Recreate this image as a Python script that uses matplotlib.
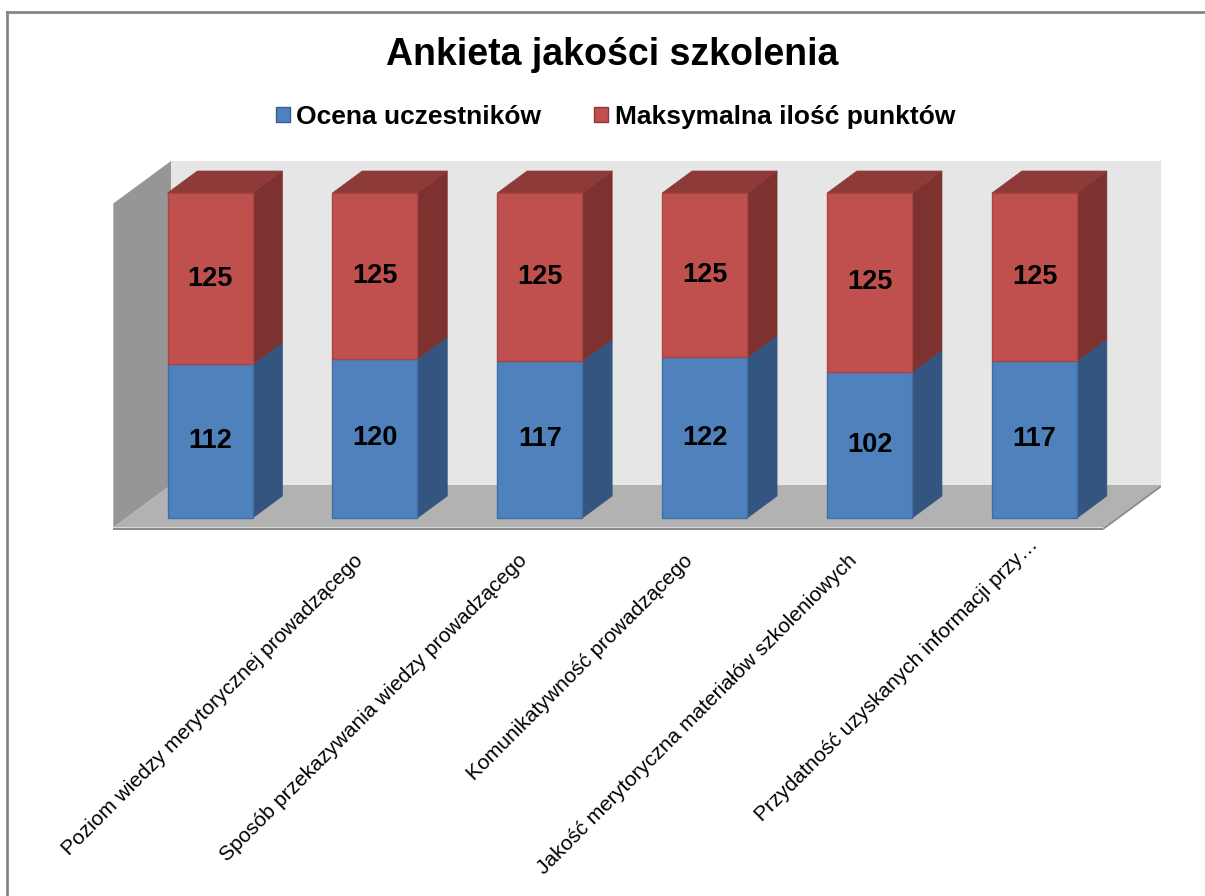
import matplotlib
matplotlib.use("Agg")
import matplotlib.pyplot as plt
from matplotlib.patches import Polygon, Patch
from matplotlib.lines import Line2D
import numpy as np

plt.rcParams['font.family'] = ['Liberation Sans', 'DejaVu Sans']

# ---------------- data ----------------
categories = [
    "",
    "Poziom wiedzy merytorycznej prowadzącego",
    "Sposób przekazywania wiedzy prowadzącego",
    "Komunikatywność prowadzącego",
    "Jakość merytoryczna materiałów szkoleniowych",
    "Przydatność uzyskanych informacji przy…",
]
ocena = [112, 120, 117, 122, 102, 117]
maks = [125, 125, 125, 125, 125, 125]
series_names = ["Ocena uczestników", "Maksymalna ilość punktów"]
title = "Ankieta jakości szkolenia"

# ---------------- style ----------------
blue_front, blue_side = "#4f81bd", "#34557f"
red_front, red_side, red_top = "#c0504d", "#7d3230", "#8e3a38"
blue_edge, red_edge = "#3f6ea6", "#a84542"

W, H = 1205, 896
fig = plt.figure(figsize=(W / 100, H / 100), dpi=100)
ax = fig.add_axes([0, 0, 1, 1])
ax.set_axis_off()

# pixel mapping: x=0 -> 210px, x=5 -> 1034.5px ; y=0 -> 518px, y=1 -> 193px
px_x = (1034.5 - 210) / 5.0
px_y = 518 - 193
ax.set_xlim(-210 / px_x, (W - 210) / px_x)
ax.set_ylim((518 - H) / px_y, 518 / px_y)

DX = 1.357 / px_x   # depth shift (per depth pixel) in data x
DY = 1.0 / px_y     # depth shift in data y


def P(x, y, d):
    return (x + d * DX, y + d * DY)


XL, XR = -0.508, 5.495
D_FRONT, D_BACK_BAR, D_WALL = -9.5, 22, 33
TOP = 0.997

# walls and floor
back = Polygon([P(XL, 0, D_WALL), P(XR, 0, D_WALL), P(XR, TOP, D_WALL), P(XL, TOP, D_WALL)],
               closed=True, facecolor="#e6e6e6", edgecolor="none", zorder=1)
left = Polygon([P(XL, 0, D_FRONT), P(XL, 0, D_WALL), P(XL, TOP, D_WALL), P(XL, TOP, D_FRONT)],
               closed=True, facecolor="#969696", edgecolor="none", zorder=2)
floor = Polygon([P(XL, 0, D_FRONT), P(XR, 0, D_FRONT), P(XR, 0, D_WALL), P(XL, 0, D_WALL)],
                closed=True, facecolor="#b2b2b2", edgecolor="none", zorder=2)
th = 2.5 / px_y
floor_edge = Polygon([P(XL, 0, D_FRONT), P(XR, 0, D_FRONT), P(XR, -th, D_FRONT), P(XL, -th, D_FRONT)],
                     closed=True, facecolor="#8a8a8a", edgecolor="none", zorder=2)
floor_right = Polygon([P(XR, 0, D_FRONT), P(XR, 0, D_WALL), P(XR, -th, D_WALL), P(XR, -th, D_FRONT)],
                      closed=True, facecolor="#8a8a8a", edgecolor="none", zorder=2)
for p in (back, left, floor, floor_edge, floor_right):
    ax.add_patch(p)

# bars (100% stacked)
x = np.arange(len(categories))
ocena = np.array(ocena, float)
maks = np.array(maks, float)
tot = ocena + maks
f_blue = ocena / tot
f_red = maks / tot
bw = 85 / px_x

ax.bar(x, f_blue, width=bw, color=blue_front, edgecolor=blue_edge, linewidth=1, zorder=5)
ax.bar(x, f_red, width=bw, bottom=f_blue, color=red_front, edgecolor=red_edge, linewidth=1, zorder=5)

for i in range(len(x)):
    xr = x[i] + bw / 2
    xl = x[i] - bw / 2
    b0, b1, b2 = 0.0, f_blue[i], f_blue[i] + f_red[i]
    ax.add_patch(Polygon([P(xr, b0, 0), P(xr, b1, 0), P(xr, b1, D_BACK_BAR), P(xr, b0, D_BACK_BAR)],
                         closed=True, facecolor=blue_side, edgecolor=blue_side, linewidth=0.5, zorder=4))
    ax.add_patch(Polygon([P(xr, b1, 0), P(xr, b2, 0), P(xr, b2, D_BACK_BAR), P(xr, b1, D_BACK_BAR)],
                         closed=True, facecolor=red_side, edgecolor=red_side, linewidth=0.5, zorder=4))
    ax.add_patch(Polygon([P(xl, b2, 0), P(xr, b2, 0), P(xr, b2, D_BACK_BAR), P(xl, b2, D_BACK_BAR)],
                         closed=True, facecolor=red_top, edgecolor=red_top, linewidth=0.5, zorder=4))
    ax.text(x[i], b1 / 2, f"{int(ocena[i])}", ha="center", va="center",
            fontsize=19.5, fontweight="bold", zorder=6)
    ax.text(x[i], (b1 + b2) / 2, f"{int(maks[i])}", ha="center", va="center",
            fontsize=19.5, fontweight="bold", zorder=6)

# category labels
for i, lab in enumerate(categories):
    if not lab:
        continue
    sx, sy = (-22, -33)
    if lab.endswith("…"):      # truncated label sits a bit further along its direction
        sx, sy = (-6, -17)
    ax.text(x[i] + sx / px_x, sy / px_y, lab, rotation=45, rotation_mode="anchor",
            ha="right", va="top", fontsize=15, zorder=6)

# title and legend
fig.text(612 / W, 1 - 55 / H, title, ha="center", va="center", fontsize=27, fontweight="bold")
handles = [Patch(facecolor=blue_front, edgecolor="#385d8a"), Patch(facecolor=red_front, edgecolor="#8c3836")]
fig.legend(handles, series_names, loc="center", bbox_to_anchor=(615.5 / W, 1 - 117 / H), ncol=2,
           frameon=False, prop={"weight": "bold", "size": 19}, handlelength=0.53, handleheight=0.53,
           handletextpad=0.25, columnspacing=2.0)

# chart border (left and top visible)
fig.add_artist(Line2D([7 / W, 7 / W], [0, 1 - 12 / H], color="#868686", linewidth=2, transform=fig.transFigure))
fig.add_artist(Line2D([7 / W, 1], [1 - 12 / H, 1 - 12 / H], color="#868686", linewidth=2, transform=fig.transFigure))

fig.savefig("out.png", dpi=100)
